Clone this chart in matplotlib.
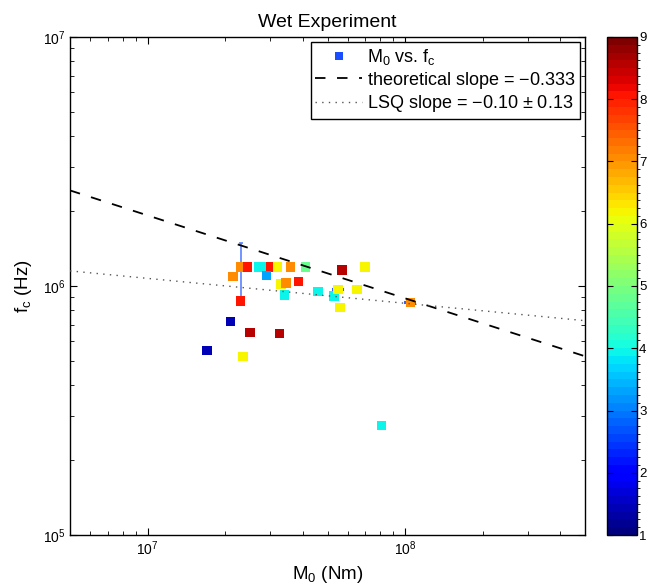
import numpy as np
import matplotlib
matplotlib.use("Agg")
import matplotlib.pyplot as plt
from matplotlib.colors import BoundaryNorm
from matplotlib.ticker import LogLocator, NullFormatter

plt.rcParams['font.family'] = ['Liberation Sans', 'DejaVu Sans']
plt.rcParams['mathtext.default'] = 'regular'

# seismic moment (Nm), corner frequency (Hz) and colour value per event
moment = [2.30e7, 2.45e7, 2.70e7, 2.88e7, 3.00e7, 3.20e7, 3.60e7, 4.10e7,
          2.15e7, 2.90e7, 3.30e7, 3.45e7, 3.85e7, 5.70e7, 7.00e7, 3.40e7,
          4.60e7, 5.30e7, 5.50e7, 6.50e7, 5.60e7, 2.30e7, 2.10e7, 2.50e7,
          3.25e7, 1.70e7, 2.35e7, 1.05e8, 8.10e7]
fc = [1.19e6, 1.19e6, 1.19e6, 1.19e6, 1.19e6, 1.19e6, 1.19e6, 1.19e6,
      1.09e6, 1.10e6, 1.02e6, 1.03e6, 1.04e6, 1.16e6, 1.19e6, 0.92e6,
      0.95e6, 0.91e6, 0.97e6, 0.97e6, 0.82e6, 0.87e6, 0.72e6, 0.65e6,
      0.645e6, 0.55e6, 0.52e6, 0.86e6, 0.275e6]
cval = [7.0, 8.1, 3.9, 3.9, 8.1, 6.2, 7.0, 4.8,
        7.0, 3.3, 6.2, 7.0, 8.1, 8.6, 6.2, 3.9,
        3.9, 3.9, 6.2, 6.2, 6.2, 8.1, 1.4, 8.6,
        8.6, 1.4, 6.2, 7.0, 3.9]

# error bars (Hz); only a few events have one
err_idx = [0, 18, 27]
err_val = [3.0e5, 4.0e3, 4.0e3]

theo_slope = -0.333
theo_ref = 2.42e6      # fc at M0 = 5e6 on the theoretical line
lsq_slope = -0.10
lsq_err = 0.13
lsq_ref = 1.15e6       # fc at M0 = 5e6 on the LSQ fit

fig = plt.figure(figsize=(6.47, 5.86), dpi=100)
ax = fig.add_axes([0.1082, 0.0870, 0.7960, 0.8499])
cax = fig.add_axes([0.9382, 0.0870, 0.0464, 0.8499])

cmap = plt.get_cmap('jet', 64)
norm = BoundaryNorm(np.linspace(1, 9, 65), 64)

mx = np.array(moment)
my = np.array(fc)

# blue series (errorbar plot), coloured squares on top
ax.errorbar(mx[err_idx[:1]], my[err_idx[:1]], yerr=err_val[:1], fmt='none',
            ecolor='#5a80ff', elinewidth=1.2, capsize=1.5, capthick=1.2, zorder=2)
ax.errorbar(mx[err_idx[1:]], my[err_idx[1:]], yerr=err_val[1:], fmt='none',
            ecolor='#3060ff', elinewidth=1.0, capsize=4.5, capthick=1.5, zorder=2)
ax.plot(mx, my, 's', color='#1a4dff', markersize=6.4, markeredgewidth=0,
        zorder=2, label='M$_0$ vs. f$_c$')
sc = ax.scatter(mx, my, c=cval, cmap=cmap, norm=norm, marker='s', s=46,
                linewidths=0, zorder=3)

xl = np.array([5e6, 5e8])
ax.plot(xl, theo_ref * (xl / 5e6) ** theo_slope, color='black', lw=1.3,
        dashes=(5.8, 6.4), label='theoretical slope = $-$0.333', zorder=4)
ax.plot(xl, lsq_ref * (xl / 5e6) ** lsq_slope, color='#555555', lw=1.0,
        dashes=(1, 3.8), label='LSQ slope = $-$0.10 $\\pm$ 0.13', zorder=4)

ax.set_xscale('log')
ax.set_yscale('log')
ax.set_xlim(5e6, 5e8)
ax.set_ylim(1e5, 1e7)
ax.xaxis.set_major_locator(LogLocator(base=10, numticks=10))
ax.yaxis.set_major_locator(LogLocator(base=10, numticks=10))
ax.xaxis.set_minor_locator(LogLocator(base=10, subs=np.arange(2, 10), numticks=20))
ax.yaxis.set_minor_locator(LogLocator(base=10, subs=np.arange(2, 10), numticks=20))
ax.xaxis.set_minor_formatter(NullFormatter())
ax.yaxis.set_minor_formatter(NullFormatter())
ax.tick_params(which='both', direction='in', top=True, right=True, labelsize=10)
ax.tick_params(which='major', length=5, width=0.8)
ax.tick_params(which='minor', length=3, width=0.6)
for s in ax.spines.values():
    s.set_linewidth(1.0)

ax.set_title('Wet Experiment', fontsize=14, pad=7)
ax.set_xlabel('M$_0$ (Nm)', fontsize=13.5, labelpad=4)
ax.set_ylabel('f$_c$ (Hz)', fontsize=13.5, labelpad=6)

leg = ax.legend(loc='upper right', fontsize=13, frameon=True, fancybox=False,
                borderaxespad=0.3, handlelength=2.6, handletextpad=0.25,
                labelspacing=0.15, borderpad=0.25)
leg.get_frame().set_edgecolor('black')
leg.get_frame().set_linewidth(1.0)
leg.get_frame().set_alpha(1.0)

cb = fig.colorbar(sc, cax=cax, ticks=np.arange(1, 10))
cb.ax.tick_params(direction='in', length=4, width=0.8, labelsize=9.5, pad=1.5,
                  left=True, right=True)
cb.outline.set_linewidth(1.0)

fig.savefig('out.png', dpi=100)
